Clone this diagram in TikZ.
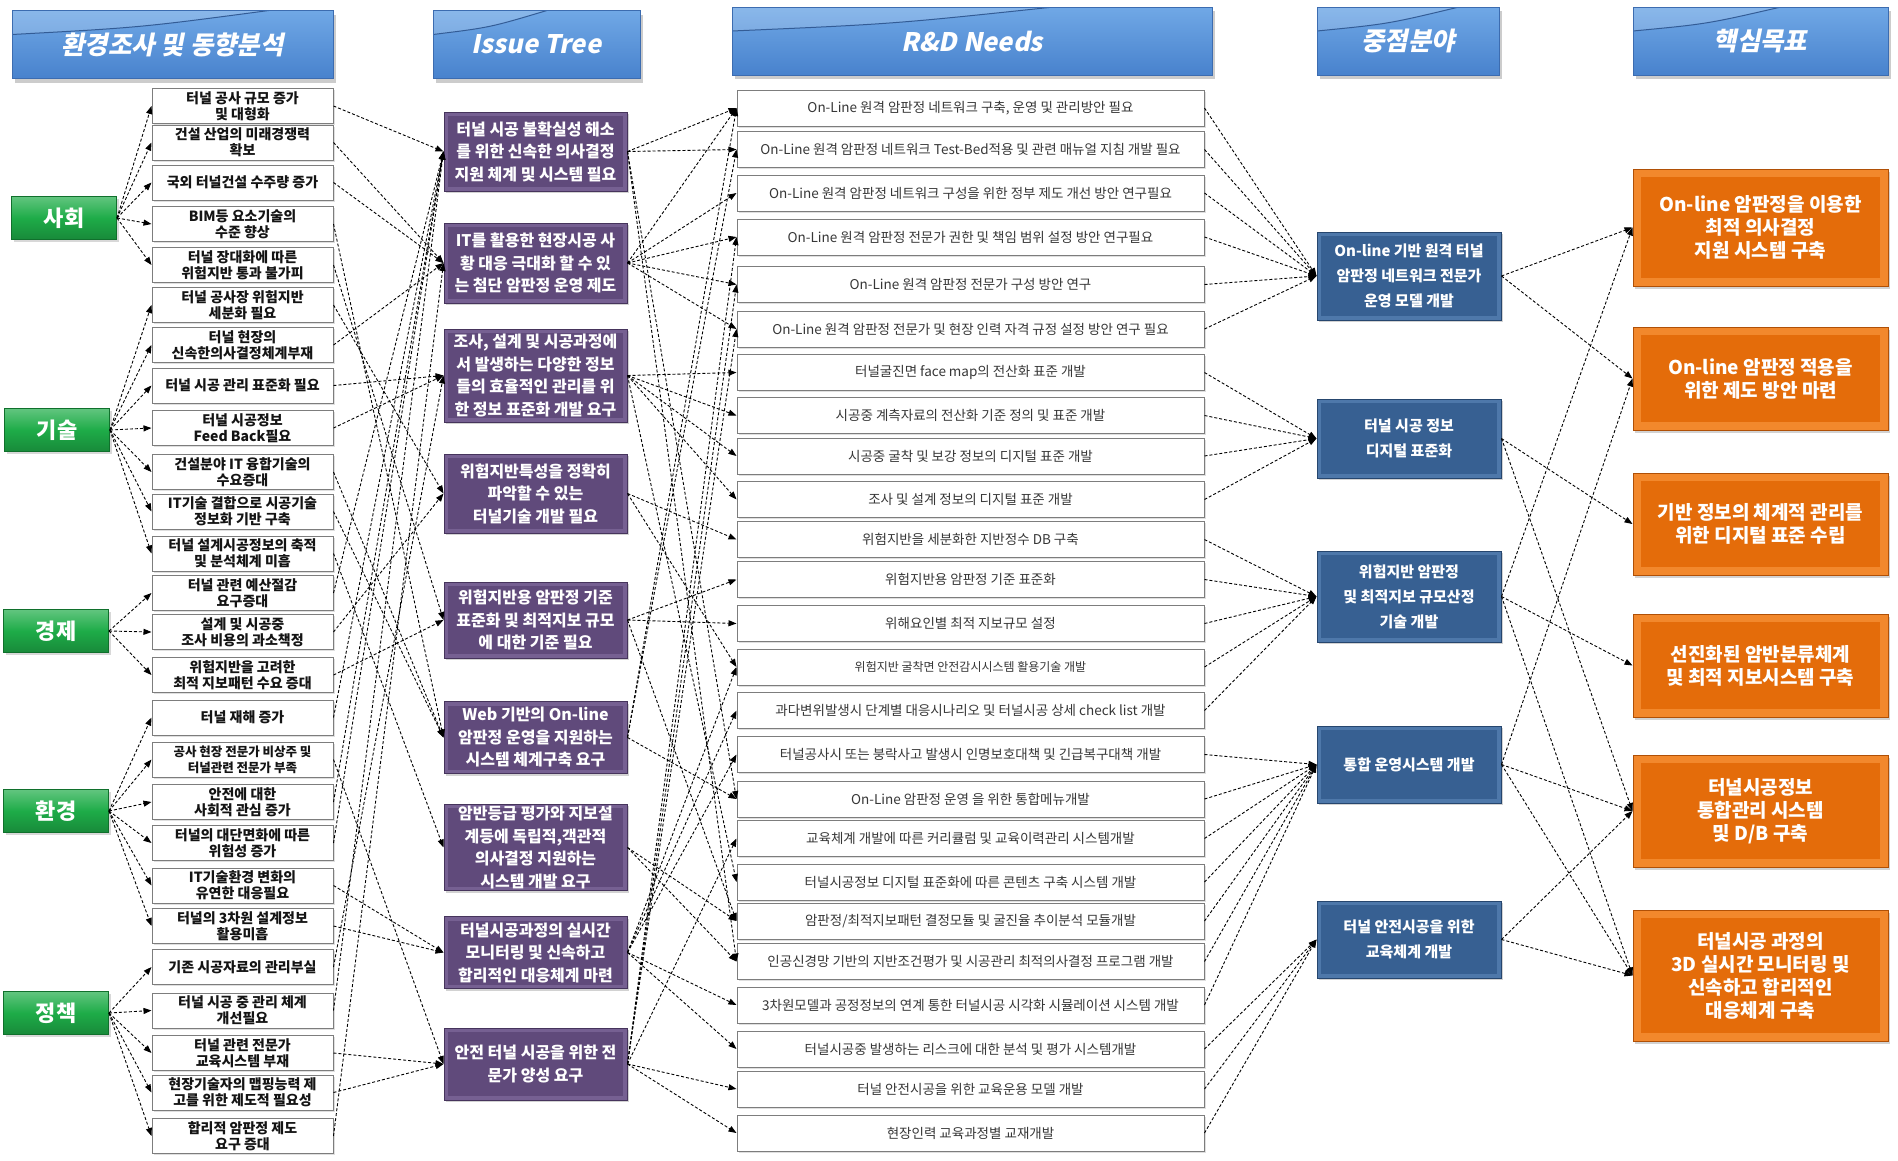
\documentclass[tikz,border=0pt]{standalone}
\usepackage{fontspec}
\setmainfont{Noto Sans CJK KR}
\newfontfamily\headfont[FakeSlant=0.2]{Noto Sans CJK KR}
\usepackage{xcolor}
\usepackage{tikz}
\usetikzlibrary{arrows.meta, calc, shadows}
\definecolor{RDHeadTop}{RGB}{112,168,230}
\definecolor{RDHeadBot}{RGB}{72,130,205}
\definecolor{RDHeadEdge}{RGB}{60,108,176}
\definecolor{RDGreen}{RGB}{30,172,72}
\definecolor{RDGreenDark}{RGB}{16,112,44}
\definecolor{RDPurple}{RGB}{96,74,123}
\definecolor{RDPurpleLight}{RGB}{118,96,146}
\definecolor{RDPurpleEdge}{RGB}{70,52,92}
\definecolor{RDBlue}{RGB}{55,96,146}
\definecolor{RDBlueLight}{RGB}{78,120,170}
\definecolor{RDBlueEdge}{RGB}{38,70,110}
\definecolor{RDOrange}{RGB}{228,108,10}
\definecolor{RDOrangeLight}{RGB}{242,136,44}
\definecolor{RDOrangeEdge}{RGB}{176,80,6}
\definecolor{RDTextDark}{RGB}{20,20,20}
\definecolor{RDTextMuted}{RGB}{55,55,55}
\definecolor{RDBoxEdge}{RGB}{125,125,125}

\tikzset{
  rdhead/.style={draw=RDHeadEdge, line width=1pt, top color=RDHeadTop, bottom color=RDHeadBot,
    minimum height=68pt, inner sep=0pt, text=white,
    font=\headfont\bfseries\fontsize{25.5}{30}\selectfont,
    drop shadow={opacity=.4, shadow xshift=3pt, shadow yshift=-4pt},
    path picture={
      \coordinate (hA) at ($(path picture bounding box.north west)+(0,-24pt)$);
      \coordinate (hB) at ($(path picture bounding box.north west)!#1!(path picture bounding box.north east)$);
      \fill[white, opacity=.18] (path picture bounding box.north west) -- (hA)
        .. controls ($(hA)!.5!(hB)+(0,-5pt)$) .. (hB) -- cycle;
      \draw[RDHeadEdge!85!black, line width=1pt] (hA) .. controls ($(hA)!.5!(hB)+(0,-5pt)$) .. (hB);}},
  rdcat/.style={draw=RDGreenDark, line width=1pt, top color=RDGreen!70!white, bottom color=RDGreen!80!black,
    middle color=RDGreen, minimum width=105pt, minimum height=43pt, text=white,
    font=\bfseries\fontsize{22}{26}\selectfont,
    drop shadow={opacity=.3, shadow xshift=2pt, shadow yshift=-2pt}},
  rdcause/.style={draw=RDBoxEdge, fill=white, line width=1pt, minimum width=181pt, minimum height=35pt,
    inner sep=1pt, align=center, text=RDTextDark, font=\bfseries\fontsize{14}{16}\selectfont,
    drop shadow={opacity=.25, shadow xshift=1.5pt, shadow yshift=-1.5pt}},
  rdissue/.style={draw=RDPurpleEdge, line width=1pt, fill=RDPurpleLight, minimum width=183pt,
    inner sep=2pt, align=center, text=white, font=\bfseries\fontsize{16}{22.5}\selectfont,
    drop shadow={opacity=.35, shadow xshift=2pt, shadow yshift=-2pt},
    path picture={\fill[RDPurple] ($(path picture bounding box.north west)+(4pt,-4pt)$)
      rectangle ($(path picture bounding box.south east)+(-4pt,4pt)$);}},
  rdneed/.style={draw=RDBoxEdge, fill=white, line width=1pt, minimum width=467pt, minimum height=36pt,
    inner sep=1pt, text=RDTextMuted, font=\fontsize{13.5}{16}\selectfont,
    drop shadow={opacity=.25, shadow xshift=1.5pt, shadow yshift=-1.5pt}},
  rdfocus/.style={draw=RDBlueEdge, line width=1pt, fill=RDBlueLight, minimum width=184pt,
    inner sep=2pt, align=center, text=white, font=\bfseries\fontsize{15}{25}\selectfont,
    drop shadow={opacity=.35, shadow xshift=2pt, shadow yshift=-2pt},
    path picture={\fill[RDBlue] ($(path picture bounding box.north west)+(4pt,-4pt)$)
      rectangle ($(path picture bounding box.south east)+(-4pt,4pt)$);}},
  rdgoal/.style={draw=RDOrangeEdge, line width=1pt, fill=RDOrangeLight, minimum width=255pt,
    inner sep=2pt, align=center, text=white, font=\bfseries\fontsize{19}{23}\selectfont,
    drop shadow={opacity=.35, shadow xshift=2pt, shadow yshift=-3pt},
    path picture={\fill[RDOrange] ($(path picture bounding box.north west)+(8pt,-8pt)$)
      rectangle ($(path picture bounding box.south east)+(-8pt,8pt)$);}},
  rdlink/.style={draw=black, line width=.9pt, dash pattern=on 3pt off 2pt,
    -{Triangle[length=8pt,width=6pt]}}
}

\begin{document}
\begin{tikzpicture}[x=1pt, y=-1pt]
  \path[use as bounding box, fill=white] (0,0) rectangle (1898,1160);

  % column heads
  \node[rdhead=.8, minimum width=321pt] (headEnv) at (172.5,44.5) {환경조사 및 동향분석};
  \node[rdhead=.55, minimum width=207pt] (headIssue) at (536.5,44.5) {Issue Tree};
  \node[rdhead=.67, minimum width=480pt] (headNeeds) at (972,41) {R\&D Needs};
  \node[rdhead=.78, minimum width=182pt] (headFocus) at (1408,41) {중점분야};
  \node[rdhead=.58, minimum width=255pt] (headGoal) at (1760.5,41) {핵심목표};

  % categories
  \node[rdcat] (catSociety) at (64,218) {사회};
  \node[rdcat] (catTech) at (57,430) {기술};
  \node[rdcat] (catEcon) at (56,631) {경제};
  \node[rdcat] (catEnv) at (56,811) {환경};
  \node[rdcat] (catPolicy) at (56,1013) {정책};

  % environment / trend items
  \node[rdcause] (cause1) at (242.5,106) {터널 공사 규모 증가\\및 대형화};
  \node[rdcause] (cause2) at (242.5,142.5) {건설 산업의 미래경쟁력\\확보};
  \node[rdcause] (cause3) at (242.5,182.5) {국외 터널건설 수주량 증가};
  \node[rdcause] (cause4) at (242.5,224) {BIM등 요소기술의\\수준 향상};
  \node[rdcause] (cause5) at (242.5,265) {터널 장대화에 따른\\위험지반 통과 불가피};
  \node[rdcause] (cause6) at (242.5,305) {터널 공사장 위험지반\\세분화 필요};
  \node[rdcause] (cause7) at (242.5,345) {터널 현장의\\신속한의사결정체계부재};
  \node[rdcause] (cause8) at (242.5,385.5) {터널 시공 관리 표준화 필요};
  \node[rdcause] (cause9) at (242.5,428) {터널 시공정보\\Feed Back필요};
  \node[rdcause] (cause10) at (242.5,472) {건설분야 IT 융합기술의\\수요증대};
  \node[rdcause] (cause11) at (242.5,511.5) {IT기술 결합으로 시공기술\\정보화 기반 구축};
  \node[rdcause] (cause12) at (242.5,553.5) {터널 설계시공정보의 축적\\및 분석체계 미흡};
  \node[rdcause] (cause13) at (242.5,593) {터널 관련 예산절감\\요구증대};
  \node[rdcause] (cause14) at (242.5,632) {설계 및 시공중\\조사 비용의 과소책정};
  \node[rdcause] (cause15) at (242.5,675) {위험지반을 고려한\\최적 지보패턴 수요 증대};
  \node[rdcause] (cause16) at (242.5,717.5) {터널 재해 증가};
  \node[rdcause, font=\bfseries\fontsize{12.5}{16}\selectfont] (cause17) at (242.5,759.5) {공사 현장 전문가 비상주 및\\터널관련 전문가 부족};
  \node[rdcause] (cause18) at (242.5,802) {안전에 대한\\사회적 관심 증가};
  \node[rdcause] (cause19) at (242.5,843) {터널의 대단면화에 따른\\위험성 증가};
  \node[rdcause] (cause20) at (242.5,885.5) {IT기술환경 변화의\\유연한 대응필요};
  \node[rdcause] (cause21) at (242.5,926) {터널의 3차원 설계정보\\활용미흡};
  \node[rdcause] (cause22) at (242.5,967) {기존 시공자료의 관리부실};
  \node[rdcause] (cause23) at (242.5,1010.5) {터널 시공 중 관리 체계\\개선필요};
  \node[rdcause] (cause24) at (242.5,1053) {터널 관련 전문가\\교육시스템 부재};
  \node[rdcause] (cause25) at (242.5,1092.5) {현장기술자의 맵핑능력 제\\고를 위한 제도적 필요성};
  \node[rdcause] (cause26) at (242.5,1136) {합리적 암판정 제도\\요구 증대};

  % issue tree
  \node[rdissue, minimum height=79pt] (issue1) at (535.5,151.5) {터널 시공 불확실성 해소\\를 위한 신속한 의사결정\\지원 체계 및 시스템 필요};
  \node[rdissue, minimum height=80pt] (issue2) at (535.5,263) {IT를 활용한 현장시공 사\\황 대응 극대화 할 수 있\\는 첨단 암판정 운영 제도};
  \node[rdissue, minimum height=93pt] (issue3) at (535.5,375.5) {조사, 설계 및 시공과정에\\서 발생하는 다양한 정보\\들의 효율적인 관리를 위\\한 정보 표준화 개발 요구};
  \node[rdissue, minimum height=79pt] (issue4) at (535.5,493.5) {위험지반특성을 정확히\\파악할 수 있는\\터널기술 개발 필요};
  \node[rdissue, minimum height=76pt] (issue5) at (535.5,620) {위험지반용 암판정 기준\\표준화 및 최적지보 규모\\에 대한 기준 필요};
  \node[rdissue, minimum height=72pt] (issue6) at (535.5,737.5) {Web 기반의 On-line\\암판정 운영을 지원하는\\시스템 체계구축 요구};
  \node[rdissue, minimum height=85pt] (issue7) at (535.5,847.5) {암반등급 평가와 지보설\\계등에 독립적,객관적\\의사결정 지원하는\\시스템 개발 요구};
  \node[rdissue, minimum height=72pt] (issue8) at (535.5,952.5) {터널시공과정의 실시간\\모니터링 및 신속하고\\합리적인 대응체계 마련};
  \node[rdissue, minimum height=72pt] (issue9) at (535.5,1064) {안전 터널 시공을 위한 전\\문가 양성 요구};

  % R&D needs
  \node[rdneed] (need1) at (970.5,108) {On-Line 원격 암판정 네트워크 구축, 운영 및 관리방안 필요};
  \node[rdneed] (need2) at (970.5,149.5) {On-Line 원격 암판정 네트워크 Test-Bed적용 및 관련 매뉴얼 지침 개발 필요};
  \node[rdneed] (need3) at (970.5,193) {On-Line 원격 암판정 네트워크 구성을 위한 정부 제도 개선 방안 연구필요};
  \node[rdneed] (need4) at (970.5,237) {On-Line 원격 암판정 전문가 권한 및 책임 범위 설정 방안 연구필요};
  \node[rdneed] (need5) at (970.5,284.5) {On-Line 원격 암판정 전문가 구성 방안 연구};
  \node[rdneed] (need6) at (970.5,329) {On-Line 원격 암판정 전문가 및 현장 인력 자격 규정 설정 방안 연구 필요};
  \node[rdneed] (need7) at (970.5,372.5) {터널굴진면 face map의 전산화 표준 개발};
  \node[rdneed] (need8) at (970.5,415.5) {시공중 계측자료의 전산화 기준 정의 및 표준 개발};
  \node[rdneed] (need9) at (970.5,456) {시공중 굴착 및 보강 정보의 디지털 표준 개발};
  \node[rdneed] (need10) at (970.5,499.5) {조사 및 설계 정보의 디지털 표준 개발};
  \node[rdneed] (need11) at (970.5,539.5) {위험지반을 세분화한 지반정수 DB 구축};
  \node[rdneed] (need12) at (970.5,579.5) {위험지반용 암판정 기준 표준화};
  \node[rdneed] (need13) at (970.5,623.5) {위해요인별 최적 지보규모 설정};
  \node[rdneed, font=\fontsize{12}{14}\selectfont] (need14) at (970.5,667) {위험지반 굴착면 안전감시시스템 활용기술 개발};
  \node[rdneed] (need15) at (970.5,710.5) {과다변위발생시 단계별 대응시나리오 및 터널시공 상세 check list 개발};
  \node[rdneed] (need16) at (970.5,754.5) {터널공사시 또는 붕락사고 발생시 인명보호대책 및 긴급복구대책 개발};
  \node[rdneed] (need17) at (970.5,799) {On-Line 암판정 운영 을 위한 통합메뉴개발};
  \node[rdneed] (need18) at (970.5,838.5) {교육체계 개발에 따른 커리큘럼 및 교육이력관리 시스템개발};
  \node[rdneed] (need19) at (970.5,882) {터널시공정보 디지털 표준화에 따른 콘텐츠 구축 시스템 개발};
  \node[rdneed] (need20) at (970.5,921) {암판정/최적지보패턴 결정모듈 및 굴진율 추이분석 모듈개발};
  \node[rdneed] (need21) at (970.5,961.5) {인공신경망 기반의 지반조건평가 및 시공관리 최적의사결정 프로그램 개발};
  \node[rdneed] (need22) at (970.5,1005) {3차원모델과 공정정보의 연계 통한 터널시공 시각화 시뮬레이션 시스템 개발};
  \node[rdneed] (need23) at (970.5,1049) {터널시공중 발생하는 리스크에 대한 분석 및 평가 시스템개발};
  \node[rdneed] (need24) at (970.5,1089) {터널 안전시공을 위한 교육운용 모델 개발};
  \node[rdneed] (need25) at (970.5,1133) {현장인력 교육과정별 교재개발};

  % focus areas
  \node[rdfocus, minimum height=88pt] (focus1) at (1409,276) {On-line 기반 원격 터널\\암판정 네트워크 전문가\\운영 모델 개발};
  \node[rdfocus, minimum height=79pt] (focus2) at (1409,438.5) {터널 시공 정보\\디지털 표준화};
  \node[rdfocus, minimum height=91pt] (focus3) at (1409,596.5) {위험지반 암판정\\및 최적지보 규모산정\\기술 개발};
  \node[rdfocus, minimum height=77pt] (focus4) at (1409,764.5) {통합 운영시스템 개발};
  \node[rdfocus, minimum height=77pt] (focus5) at (1409,939.5) {터널 안전시공을 위한\\교육체계 개발};

  % key goals
  \node[rdgoal, minimum height=117pt] (goal1) at (1760.5,227.5) {On-line 암판정을 이용한\\최적 의사결정\\지원 시스템 구축};
  \node[rdgoal, minimum height=103pt] (goal2) at (1760.5,378.5) {On-line 암판정 적용을\\위한 제도 방안 마련};
  \node[rdgoal, minimum height=102pt] (goal3) at (1760.5,524) {기반 정보의 체계적 관리를\\위한 디지털 표준 수립};
  \node[rdgoal, minimum height=103pt] (goal4) at (1760.5,665.5) {선진화된 암반분류체계\\및 최적 지보시스템 구축};
  \node[rdgoal, minimum height=112pt] (goal5) at (1760.5,811) {터널시공정보\\통합관리 시스템\\및 D/B 구축};
  \node[rdgoal, minimum height=131pt] (goal6) at (1760.5,975.5) {터널시공 과정의\\3D 실시간 모니터링 및\\신속하고 합리적인\\대응체계 구축};

  % category -> item
  \foreach \src/\dst in {catSociety/cause1, catSociety/cause2, catSociety/cause3, catSociety/cause4,
      catSociety/cause5, catTech/cause6, catTech/cause7, catTech/cause8, catTech/cause9,
      catTech/cause10, catTech/cause11, catTech/cause12, catEcon/cause13, catEcon/cause14,
      catEcon/cause15, catEnv/cause16, catEnv/cause17, catEnv/cause18, catEnv/cause19,
      catEnv/cause20, catEnv/cause21, catPolicy/cause22, catPolicy/cause23, catPolicy/cause24,
      catPolicy/cause25, catPolicy/cause26}
    \draw[rdlink] (\src.east) -- (\dst.west);

  % item -> issue
  \foreach \src/\dst in {cause1/issue1, cause2/issue2, cause3/issue2, cause4/issue6, cause5/issue5,
      cause6/issue4, cause7/issue2, cause8/issue3, cause9/issue3, cause10/issue6, cause11/issue6,
      cause12/issue7, cause13/issue1, cause14/issue4, cause15/issue5, cause16/issue1,
      cause17/issue9, cause18/issue1, cause19/issue1, cause20/issue8, cause21/issue8,
      cause22/issue3, cause23/issue1, cause24/issue9, cause25/issue9, cause26/issue2}
    \draw[rdlink] (\src.east) -- (\dst.west);

  % issue -> need
  \foreach \src/\dst in {issue1/need1, issue1/need2, issue1/need17, issue1/need21,
      issue2/need1, issue2/need3, issue2/need4, issue2/need5, issue2/need6,
      issue3/need7, issue3/need8, issue3/need9, issue3/need10, issue3/need19,
      issue4/need11, issue4/need14, issue5/need12, issue5/need13, issue5/need20,
      issue6/need1, issue6/need2, issue6/need17, issue7/need20, issue7/need21,
      issue8/need14, issue8/need15, issue8/need16, issue8/need22, issue8/need23,
      issue9/need4, issue9/need5, issue9/need6, issue9/need18, issue9/need24, issue9/need25}
    \draw[rdlink] (\src.east) -- (\dst.west);

  % need -> focus
  \foreach \src/\dst in {need1/focus1, need2/focus1, need3/focus1, need4/focus1, need5/focus1,
      need6/focus1, need7/focus2, need8/focus2, need9/focus2, need10/focus2,
      need11/focus3, need12/focus3, need13/focus3, need14/focus3, need15/focus3,
      need16/focus4, need17/focus4, need18/focus4, need19/focus4, need20/focus4,
      need21/focus4, need22/focus4, need23/focus5, need24/focus5, need25/focus5}
    \draw[rdlink] (\src.east) -- (\dst.west);

  % focus -> goal
  \foreach \src/\dst in {focus1/goal1, focus1/goal2, focus2/goal3, focus2/goal5, focus3/goal1,
      focus3/goal4, focus3/goal6, focus4/goal2, focus4/goal5, focus4/goal6, focus5/goal5, focus5/goal6}
    \draw[rdlink] (\src.east) -- (\dst.west);
\end{tikzpicture}
\end{document}
